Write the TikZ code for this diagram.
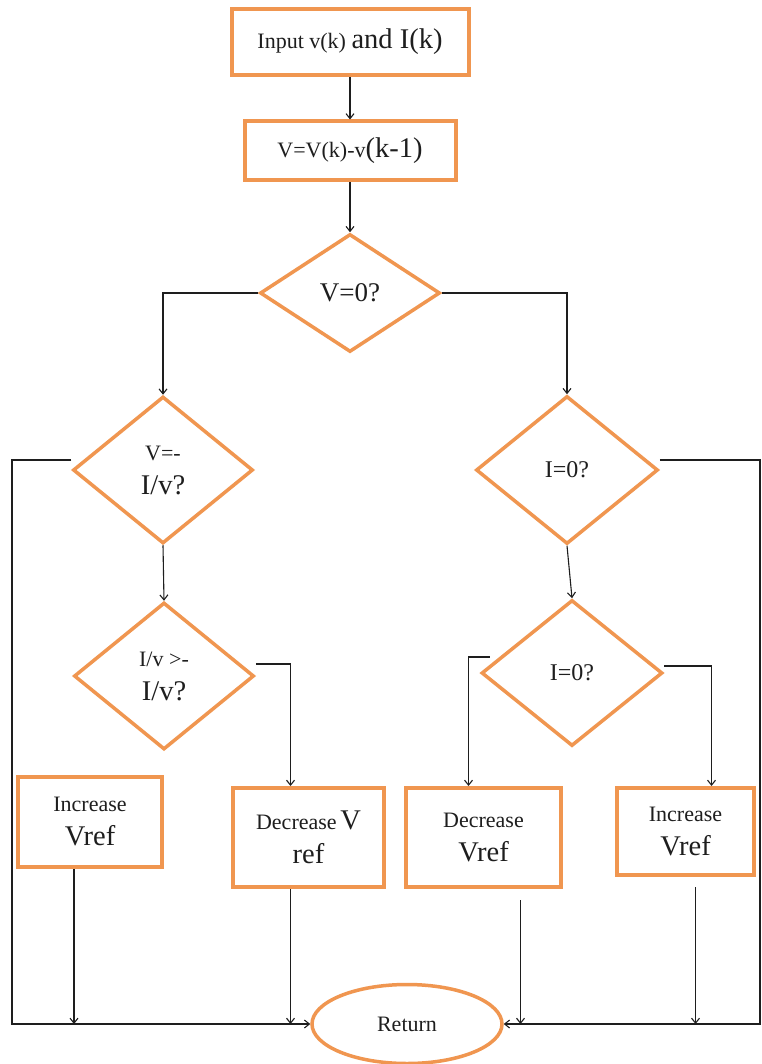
\documentclass[tikz,border=0pt]{standalone}
\usepackage{fontspec}
\setmainfont{Liberation Serif}
\usetikzlibrary{shapes.geometric,arrows.meta}
\definecolor{boxorange}{RGB}{240,150,80}
\definecolor{inkc}{RGB}{30,30,30}
\newcommand\smf{\fontsize{22}{34}\selectfont}
\newcommand\lgf{\fontsize{28.5}{34}\selectfont}
\begin{document}
\begin{tikzpicture}[x=1pt,y=-1pt,
  every node/.style={text=inkc},
  procbox/.style={draw=boxorange,line width=4pt,rectangle,inner sep=0pt,align=center,font=\smf},
  decision/.style={draw=boxorange,line width=3.5pt,diamond,inner sep=0pt,align=center,font=\smf},
  termin/.style={draw=boxorange,line width=3.5pt,ellipse,inner sep=0pt,font=\smf},
  conn/.style={draw=inkc,line width=1.1pt},
  arr/.style={conn,-{Straight Barb[length=5pt,width=8pt]}}]
\useasboundingbox (0,0) rectangle (761,1064);
\fill[white] (0,0) rectangle (761,1064);

\node[procbox,minimum width=237pt,minimum height=66pt] (in) at (350,42) {Input v(k) {\lgf and I(k)}};
\node[procbox,minimum width=211pt,minimum height=59pt] (diff) at (350,151) {V=V(k)-v{\lgf(k-1)}};
\node[decision,minimum width=180pt,minimum height=118pt] (d1) at (350,293) {\fontsize{27}{30}\selectfont V=0?};
\node[decision,minimum width=180pt,minimum height=147pt] (d2) at (163,470) {V=-\\{\lgf I/v?}};
\node[decision,minimum width=182pt,minimum height=148pt] (d3) at (567,470) {\fontsize{24}{30}\selectfont I=0?};
\node[decision,minimum width=180pt,minimum height=147pt] (d4) at (164,676) {I/v >-\\{\lgf I/v?}};
\node[decision,minimum width=181pt,minimum height=146pt] (d5) at (572,673) {\fontsize{24}{30}\selectfont I=0?};
\node[procbox,minimum width=144pt,minimum height=90pt] (incL) at (90,822) {Increase\\{\lgf Vref}};
\node[procbox,minimum width=151pt,minimum height=99pt] (decL) at (308.5,837.5) {Decrease\,{\lgf V}\\{\lgf ref}};
\node[procbox,minimum width=155pt,minimum height=99pt] (decR) at (483.5,837.5) {Decrease\\{\lgf Vref}};
\node[procbox,minimum width=137pt,minimum height=87pt] (incR) at (685.5,831.5) {Increase\\{\lgf Vref}};
\node[termin,minimum width=190pt,minimum height=79pt] (ret) at (407,1024) {Return};

\coordinate (cl) at (12,1024);
\coordinate (cr) at (760,1024);

\draw[arr] (in.south) -- (diff.north);
\draw[arr] (diff.south) -- (d1.north);
\draw[arr] (d1.west) -| (d2.north);
\draw[arr] (d1.east) -| (d3.north);
\draw[arr] (d2.south) -- (d4.north);
\draw[arr] (d3.south) -- (d5.north);
\draw[arr] ([yshift=10pt]d2.west) -| (cl) -- (ret.west);
\draw[arr] ([yshift=10pt]d3.east) -| (cr) -- (ret.east);
\draw[arr] ([yshift=12pt]d4.east) -| ([xshift=-18pt]decL.north);
\draw[arr] ([yshift=16pt,xshift=10pt]d5.west) -| ([xshift=-15pt]decR.north);
\draw[arr] ([yshift=7pt]d5.east) -| ([xshift=26pt]incR.north);
\draw[arr] ([xshift=-16pt]incL.south) -- ([xshift=-16pt]incL.south |- ret.west);
\draw[arr] ([xshift=-18pt]decL.south) -- ([xshift=-18pt]decL.south |- ret.west);
\draw[arr] ([xshift=37pt,yshift=-11pt]decR.south) -- ([xshift=37pt]decR.south |- ret.west);
\draw[arr] ([xshift=10pt,yshift=-10pt]incR.south) -- ([xshift=10pt]incR.south |- ret.west);
\end{tikzpicture}
\end{document}
